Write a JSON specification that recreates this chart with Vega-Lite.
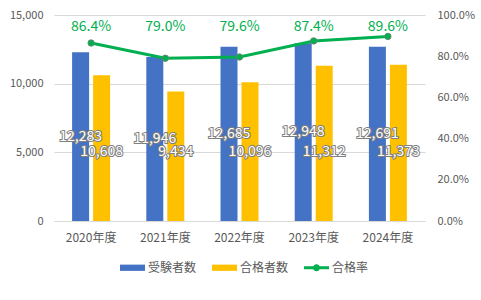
{
  "$schema": "https://vega.github.io/schema/vega-lite/v6.json",
  "width": 371,
  "height": 206,
  "autosize": {"type": "none"},
  "padding": {"left": 54, "top": 15, "right": 56, "bottom": 79},
  "background": "white",
  "config": {
    "font": "Noto Sans CJK JP",
    "view": {"stroke": null},
    "axis": {"labelColor": "#595959", "domain": false, "ticks": false, "grid": false, "title": null}
  },
  "data": {"values": [
    {"year": "2020年度", "受験者数": 12283, "合格者数": 10608, "合格率": 0.864},
    {"year": "2021年度", "受験者数": 11946, "合格者数": 9434, "合格率": 0.790},
    {"year": "2022年度", "受験者数": 12685, "合格者数": 10096, "合格率": 0.796},
    {"year": "2023年度", "受験者数": 12948, "合格者数": 11312, "合格率": 0.874},
    {"year": "2024年度", "受験者数": 12691, "合格者数": 11373, "合格率": 0.896}
  ]},
  "encoding": {
    "x": {
      "field": "year", "type": "nominal", "sort": null,
      "scale": {"paddingInner": 0.488, "paddingOuter": 0.244},
      "axis": {"labelAngle": 0, "labelFontSize": 12, "labelPadding": 11, "domain": true, "domainColor": "#d9d9d9", "ticks": false, "title": null}
    }
  },
  "layer": [
    {
      "transform": [{"fold": ["受験者数", "合格者数"], "as": ["series", "value"]}],
      "mark": {"type": "bar"},
      "encoding": {
        "xOffset": {"field": "series", "type": "nominal", "sort": ["受験者数", "合格者数"], "scale": {"paddingInner": 0.19, "paddingOuter": 0}},
        "y": {"field": "value", "type": "quantitative", "scale": {"domain": [0, 15000]},
          "axis": {"orient": "left", "grid": true, "gridColor": "#d9d9d9", "values": [0, 5000, 10000, 15000], "format": ",.0f", "formatType": "number", "labelFontSize": 11, "labelPadding": 11}},
        "color": {
          "field": "series", "type": "nominal",
          "scale": {"domain": ["受験者数", "合格者数", "合格率"], "range": ["#4472C4", "#FFC000", "#00B050"]},
          "legend": {
            "orient": "none", "legendX": 66, "legendY": 240, "direction": "horizontal", "title": null,
            "symbolSize": 625, "symbolType": "M-1,-0.25H1V0.25H-1Z", "symbolStrokeWidth": 0,
            "labelFontSize": 12, "labelColor": "#595959", "labelOffset": 3, "columnPadding": 15, "padding": 0,
            "encode": {"symbols": {"update": {
              "shape": {"signal": "datum.label === '合格率' ? 'M-1,-0.12H1V0.12H-1Z M-0.28,0A0.28,0.28 0 1,1 0.28,0A0.28,0.28 0 1,1 -0.28,0Z' : 'M-1,-0.25H1V0.25H-1Z'"},
              "fill": {"signal": "scale('color', datum.value)"},
              "strokeWidth": {"value": 0},
              "opacity": {"value": 1}
            }}}
          }
        }
      }
    },
    {
      "transform": [{"fold": ["受験者数", "合格者数"], "as": ["series", "value"]}],
      "layer": [
        {
          "transform": [{"filter": "datum.series === '受験者数'"}],
          "mark": {"type": "text", "fontSize": 14, "fill": "#7f7f7f", "stroke": "#7f7f7f", "strokeWidth": 2, "baseline": "middle"},
          "encoding": {
            "xOffset": {"field": "series", "type": "nominal"},
            "y": {"field": "value", "type": "quantitative", "scale": {"domain": [0, 30000]}, "axis": null},
            "text": {"field": "value", "type": "quantitative", "format": ","}
          }
        },
        {
          "transform": [{"filter": "datum.series === '受験者数'"}],
          "mark": {"type": "text", "fontSize": 14, "fill": "white", "baseline": "middle"},
          "encoding": {
            "xOffset": {"field": "series", "type": "nominal"},
            "y": {"field": "value", "type": "quantitative", "axis": null},
            "text": {"field": "value", "type": "quantitative", "format": ","}
          }
        },
        {
          "transform": [{"filter": "datum.series === '合格者数'"}],
          "mark": {"type": "text", "fontSize": 14, "fill": "#7f7f7f", "stroke": "#7f7f7f", "strokeWidth": 2, "baseline": "middle"},
          "encoding": {
            "xOffset": {"field": "series", "type": "nominal"},
            "y": {"datum": 10000, "type": "quantitative", "axis": null},
            "text": {"field": "value", "type": "quantitative", "format": ","}
          }
        },
        {
          "transform": [{"filter": "datum.series === '合格者数'"}],
          "mark": {"type": "text", "fontSize": 14, "fill": "white", "baseline": "middle"},
          "encoding": {
            "xOffset": {"field": "series", "type": "nominal"},
            "y": {"datum": 10000, "type": "quantitative", "axis": null},
            "text": {"field": "value", "type": "quantitative", "format": ","}
          }
        }
      ]
    },
    {
      "layer": [
        {
          "mark": {"type": "line", "strokeWidth": 3},
          "encoding": {
            "y": {"field": "合格率", "type": "quantitative", "scale": {"domain": [0, 1]},
              "axis": {"orient": "right", "values": [0, 0.2, 0.4, 0.6, 0.8, 1], "format": ".1%", "labelFontSize": 11, "labelPadding": 12}},
            "color": {"datum": "合格率"}
          }
        },
        {
          "mark": {"type": "point", "filled": true, "size": 40, "fill": "#00B050", "stroke": "#5f8a6c", "strokeWidth": 1, "opacity": 1},
          "encoding": {"y": {"field": "合格率", "type": "quantitative"}}
        },
        {
          "mark": {"type": "text", "fontSize": 14, "color": "#00B050", "baseline": "middle"},
          "encoding": {
            "y": {"datum": 0.944, "type": "quantitative"},
            "text": {"field": "合格率", "type": "quantitative", "format": ".1%"}
          }
        }
      ]
    }
  ],
  "resolve": {"scale": {"y": "independent"}}
}
